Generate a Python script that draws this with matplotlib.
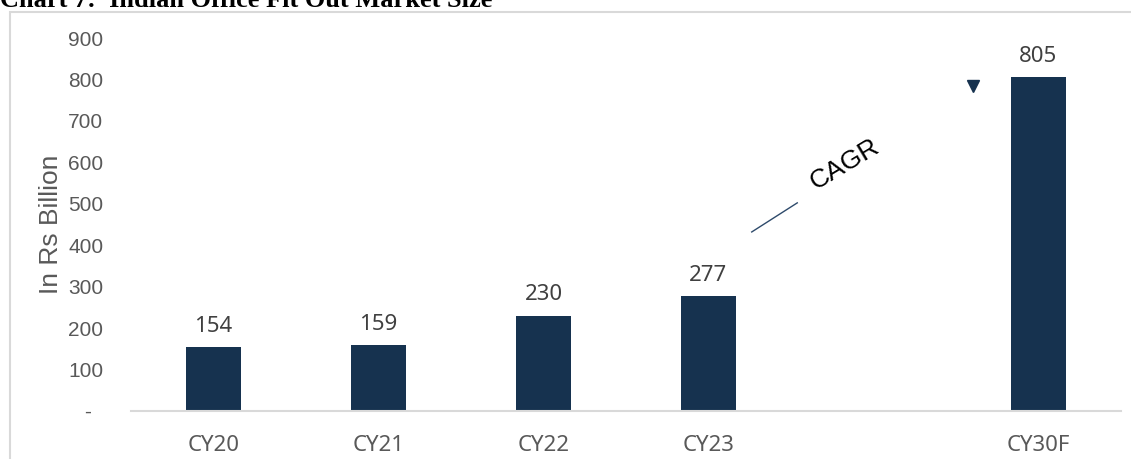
import matplotlib.pyplot as plt
from matplotlib.patches import Rectangle

# data
categories = ['CY20', 'CY21', 'CY22', 'CY23', 'CY30F']
positions = [0, 1, 2, 3, 5]
values = [154, 159, 230, 277, 805]
yticks = [0, 100, 200, 300, 400, 500, 600, 700, 800, 900]
ytick_labels = ['-  '] + [str(v) for v in yticks[1:]]

bar_color = '#16324F'

fig = plt.figure(figsize=(11.31, 4.59), dpi=100)
ax = fig.add_axes([131/1131, 1 - 411/459, 990/1131, 373/459])

bars = ax.bar(positions, values, width=0.33, color=bar_color, zorder=2)
for x, v in zip(positions, values):
    ax.annotate(str(v), (x, v), xytext=(0, 11), textcoords='offset points',
                ha='center', va='baseline', fontsize=16, color='#404040',
                family='Noto Sans')

ax.set_xlim(-0.5, 5.5)
ax.set_ylim(0, 900)
ax.set_xticks(positions)
ax.set_xticklabels(categories, family='Noto Sans', fontsize=16, color='#595959')
ax.set_yticks(yticks)
ax.set_yticklabels(ytick_labels, family='Liberation Sans', fontsize=15, color='#595959')
ax.tick_params(axis='both', length=0)
ax.tick_params(axis='y', pad=20)
ax.tick_params(axis='x', pad=17)
for s in ['top', 'right', 'left']:
    ax.spines[s].set_visible(False)
ax.spines['bottom'].set_color('#d9d9d9')
ax.spines['bottom'].set_linewidth(1.5)
ax.set_ylabel('In Rs Billion', family='Liberation Sans', fontsize=19, color='#595959')
ax.yaxis.set_label_coords(-0.069, 0.5)

# CAGR annotation
ax.plot([0.627, 0.673], [0.480, 0.558], transform=ax.transAxes, color='#2E4A6B', lw=1)
ax.text(0.721, 0.662, 'CAGR', transform=ax.transAxes, rotation=31, ha='center',
        va='center', fontsize=19, family='Liberation Sans', color='black')
ax.plot([0.8505], [0.871], marker='v', transform=ax.transAxes, color=bar_color,
        markersize=9, clip_on=False)

# frame
fig.patches.append(Rectangle((10/1131, -0.05), 1.2, 1 - 12/459 + 0.05,
                             transform=fig.transFigure, fill=False,
                             edgecolor='#d9d9d9', lw=1.5))
fig.text(0.0, 1 - 7/459, 'Chart 7:  Indian Office Fit Out Market Size',
         family='Liberation Serif', weight='bold', fontsize=19, va='baseline')

fig.savefig('out.png', dpi=100)
